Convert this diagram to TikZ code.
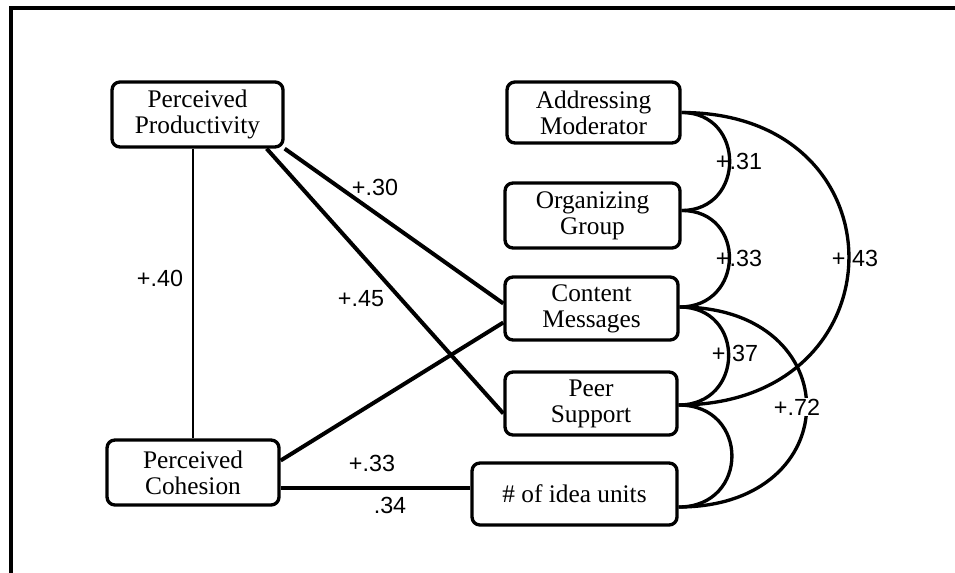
\documentclass[tikz,border=0pt]{standalone}
\usepackage{fontspec}
\setmainfont{Liberation Serif}
\newfontfamily\labfont{Liberation Sans}
\usetikzlibrary{calc}
\begin{document}
\begin{tikzpicture}[x=0.75pt,y=-0.75pt,
  box/.style={draw,line width=2.5pt,rounded corners=6pt,align=center,inner sep=0pt,
    font=\fontsize{19}{19.5}\selectfont},
  lab/.style={font=\labfont\fontsize{17.5}{18}\selectfont,inner sep=0pt},
  conn/.style={line width=3pt},
  thinconn/.style={line width=1.8pt},
  arcline/.style={line width=2.5pt}]
\useasboundingbox (0,0) rectangle (955,573);
\draw[line width=3pt] (11,573) -- (11,8) -- (955,8);

% nodes
\node[box,minimum width=128.25pt,minimum height=48.75pt] (prod) at (197.5,114.5) {Perceived\\Productivity};
\node[box,minimum width=129pt,minimum height=48.75pt] (coh) at (193,472.5) {Perceived\\Cohesion};
\node[box,minimum width=129.75pt,minimum height=45.75pt] (addr) at (593.5,112.5) {Addressing\\Moderator};
\node[box,minimum width=131.25pt,minimum height=48.75pt] (org) at (592.5,215.5) {Organizing\\Group};
\node[box,minimum width=129.75pt,minimum height=47.25pt] (cont) at (591.5,308.5) {Content\\Messages};
\node[box,minimum width=129pt,minimum height=47.25pt] (peer) at (591,403.5) {Peer\\Support};
\node[box,minimum width=153.75pt,minimum height=46.5pt] (ideas) at (574.5,494) {\# of idea units};

% straight connectors
\draw[thinconn] (coh.north) -- (coh.north |- prod.south);
\draw[conn] (prod.south east) -- ($(cont.west)+(0,-5)$);
\draw[conn] ($(prod.south east)+(-18,0)$) -- ($(peer.west)+(0,10)$);
\draw[conn] ($(coh.east)+(0,-12)$) -- ($(cont.west)+(0,14)$);
\draw[conn] ($(coh.east)+(0,15)$) -- ($(ideas.west)+(0,-6.5)$);

% arc end points
\coordinate (A) at (addr.east);
\coordinate (O) at ($(org.east)+(0,-5)$);
\coordinate (C) at ($(cont.east)+(0,-1.5)$);
\coordinate (P) at ($(peer.east)+(0,1.5)$);
\coordinate (I) at ($(ideas.east)+(0,13)$);

\draw[arcline] (A) .. controls ($(A)+(64,0)$) and ($(O)+(64,0)$) .. (O);
\draw[arcline] (O) .. controls ($(O)+(65,0)$) and ($(C)+(65,0)$) .. (C);
\draw[arcline] (A) .. controls ($(A)+(225,0)$) and ($(P)+(225,0)$) .. (P);
\draw[arcline] (C) .. controls ($(C)+(66,0)$) and ($(P)+(66,0)$) .. (P);
\draw[arcline] (C) .. controls ($(C)+(170,0)$) and ($(I)+(170,0)$) .. (I);
\draw[arcline] (P) .. controls ($(P)+(71,0)$) and ($(I)+(71,0)$) .. (I);

% labels
\node[lab] (l40) at (160,278) {+.40};
\node[lab] (l30) at (375,187) {+.30};
\node[lab] (l45) at (361,299) {+.45};
\node[lab] (l33a) at (372,463) {+.33};
\node[lab] (l34) at (390,505) {.34};
\node[lab] (l31) at (739,161) {+.31};
\node[lab] (l33b) at (739,258) {+.33};
\node[lab] (l43) at (855,258) {+.43};
\node[lab] (l37) at (735,353) {+.37};
\node[lab,fill=white,inner sep=1pt] (l72) at (797,407) {+.72};
\end{tikzpicture}
\end{document}
